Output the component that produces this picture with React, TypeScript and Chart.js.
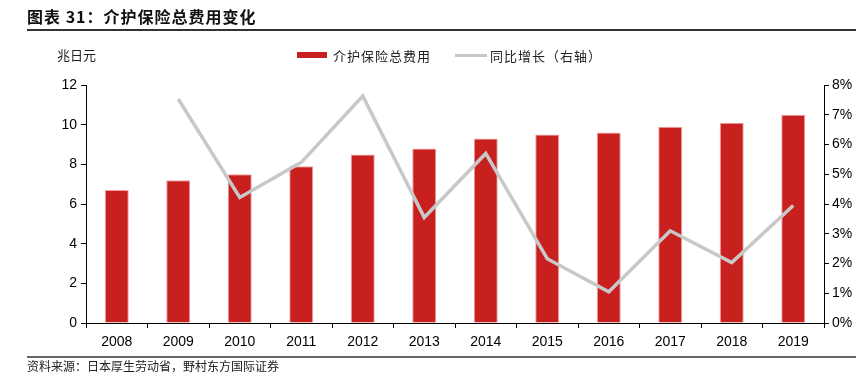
import React, { useEffect, useRef } from "react";
import { Chart, registerables } from "chart.js";

Chart.register(...registerables);

const years = ["2008", "2009", "2010", "2011", "2012", "2013", "2014", "2015", "2016", "2017", "2018", "2019"];
const totalCost = [6.7, 7.2, 7.5, 7.9, 8.5, 8.8, 9.3, 9.5, 9.6, 9.9, 10.1, 10.5];
const yoyGrowth = [null, 7.53, 4.22, 5.4, 7.63, 3.55, 5.7, 2.16, 1.05, 3.1, 2.03, 3.95];
const barName = "介护保险总费用";
const lineName = "同比增长（右轴）";
const titleText = "图表 31：介护保险总费用变化";
const sourceText = "资料来源：日本厚生劳动省，野村东方国际证券";
const unitText = "兆日元";

const RED = "#C8201F";
const GRAY = "#C8C8C8";
const TICK_FONT = { family: "'Liberation Sans', Arial, sans-serif", size: 14 };
const CJK = "'Noto Sans CJK SC', sans-serif";

export default function App() {
  const ref = useRef<HTMLCanvasElement | null>(null);
  useEffect(() => {
    const canvas = ref.current;
    if (!canvas) return;
    const chart = new Chart(canvas, {
      type: "bar",
      data: {
        labels: years,
        datasets: [
          {
            type: "line",
            label: lineName,
            data: yoyGrowth,
            yAxisID: "y1",
            borderColor: GRAY,
            backgroundColor: GRAY,
            borderWidth: 3.5,
            pointRadius: 0,
            tension: 0,
            order: 0,
          },
          {
            type: "bar",
            label: barName,
            data: totalCost,
            yAxisID: "y",
            backgroundColor: RED,
            borderColor: "rgba(240,150,150,0.9)",
            borderWidth: 1,
            categoryPercentage: 1,
            barPercentage: 0.39,
            order: 1,
          },
        ],
      },
      options: {
        animation: false,
        responsive: false,
        maintainAspectRatio: false,
        layout: { padding: { left: 0, right: 0, top: 85, bottom: 30 } },
        plugins: { legend: { display: false }, tooltip: { enabled: false } },
        scales: {
          x: {
            offset: true,
            grid: { display: true, offset: true, drawOnChartArea: false, drawTicks: true, tickLength: 5, color: "#000" },
            border: { color: "#000", width: 1 },
            ticks: { color: "#000", font: TICK_FONT, padding: 6, maxRotation: 0 },
            afterFit: (s: any) => { s.height = 25; },
          },
          y: {
            position: "left",
            min: 0,
            max: 12,
            grid: { drawOnChartArea: false, drawTicks: true, tickLength: 5, color: "#000" },
            border: { color: "#000", width: 1 },
            ticks: { stepSize: 2, color: "#000", font: TICK_FONT, padding: 4 },
            afterFit: (s: any) => { s.width = 86; },
          },
          y1: {
            position: "right",
            min: 0,
            max: 8,
            grid: { drawOnChartArea: false, drawTicks: true, tickLength: 5, color: "#000" },
            border: { color: "#000", width: 1 },
            ticks: { stepSize: 1, color: "#000", font: TICK_FONT, padding: 3, callback: (v: any) => `${v}%` },
            afterFit: (s: any) => { s.width = 32; },
          },
        },
      },
    });
    return () => chart.destroy();
  }, []);

  return (
    <div style={{ position: "fixed", left: 0, top: 0, width: 856, height: 378, background: "#fff", overflow: "hidden" }}>
      <canvas ref={ref} width={856} height={378} style={{ position: "absolute", left: 0, top: 0, width: 856, height: 378 }} />
      <div style={{ position: "absolute", left: 27, top: 5, fontFamily: CJK, fontWeight: 700, fontSize: 16, letterSpacing: 1, lineHeight: "22px", color: "#111" }}>
        {titleText}
      </div>
      <div style={{ position: "absolute", left: 27, right: 0, top: 29, height: 1.5, background: "#333" }} />
      <div style={{ position: "absolute", left: 57, top: 46, fontFamily: CJK, fontSize: 13, lineHeight: "18px", color: "#222" }}>
        {unitText}
      </div>
      <div style={{ position: "absolute", left: 297, top: 46, height: 18, display: "flex", alignItems: "center", fontFamily: CJK, fontSize: 13, letterSpacing: 1, color: "#222" }}>
        <span style={{ display: "inline-block", width: 30, height: 6, background: RED, marginRight: 6 }} />
        <span>{barName}</span>
        <span style={{ display: "inline-block", width: 32, height: 3, background: GRAY, marginLeft: 24, marginRight: 3 }} />
        <span>{lineName}</span>
      </div>
      <div style={{ position: "absolute", left: 27, right: 0, top: 356, height: 1.5, background: "#666" }} />
      <div style={{ position: "absolute", left: 27, top: 358, fontFamily: CJK, fontSize: 12, lineHeight: "16px", color: "#222" }}>
        {sourceText}
      </div>
    </div>
  );
}
